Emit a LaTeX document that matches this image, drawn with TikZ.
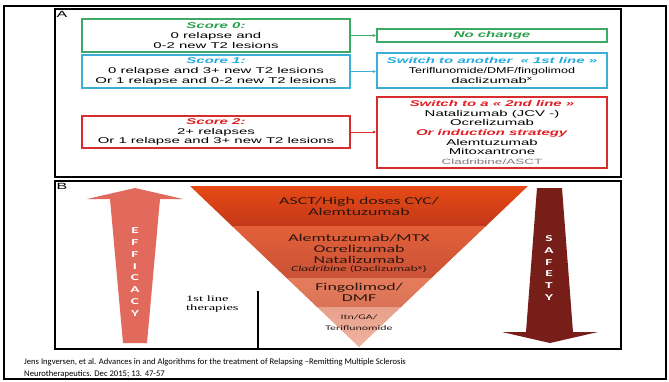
\documentclass[tikz,border=0pt]{standalone}
\usepackage{graphicx}
\usepackage{fontspec}
\setmainfont{Liberation Sans}
\newfontfamily\arw[FakeStretch=1.78]{Liberation Sans}
\newfontfamily\calw[FakeStretch=1.7]{Carlito}
\newfontfamily\calplain{Carlito}
\newfontfamily\serplain{Liberation Serif}
\usetikzlibrary{arrows.meta}
\definecolor{sgreen}{RGB}{40,160,75}
\definecolor{bgreen}{RGB}{60,170,100}
\definecolor{sblue}{RGB}{35,170,225}
\definecolor{bblue}{RGB}{60,175,215}
\definecolor{sred}{RGB}{225,30,35}
\definecolor{bred}{RGB}{215,45,45}
\definecolor{effc}{RGB}{226,106,92}
\definecolor{safc}{RGB}{120,30,25}
\definecolor{tritext}{RGB}{45,22,15}
\definecolor{bandAt}{RGB}{232,74,20}
\definecolor{bandAb}{RGB}{195,56,26}
\definecolor{bandBt}{RGB}{226,96,56}
\definecolor{bandBb}{RGB}{202,82,55}
\definecolor{bandCt}{RGB}{228,124,92}
\definecolor{bandCb}{RGB}{218,114,86}
\definecolor{bandDt}{RGB}{232,160,138}
\definecolor{bandDb}{RGB}{238,180,162}
\begin{document}
\begin{tikzpicture}[x=1pt,y=-1pt,
  panel/.style={draw=black, line width=2pt, minimum width=566pt, minimum height=168pt, inner sep=0pt},
  sbox/.style={draw, line width=1.3pt, inner sep=0pt, minimum width=268pt, minimum height=33pt, align=center, font=\arw\fontsize{8.4}{9.7}\selectfont},
  tbox/.style={draw, line width=1.3pt, inner sep=0pt, minimum width=230pt, align=center, font=\arw\fontsize{8.4}{9.7}\selectfont},
  conn/.style={line width=1pt, -{Latex[length=3.5pt,width=3pt]}},
  plabel/.style={font=\arw\fontsize{9}{10}\selectfont, inner sep=0pt},
  tri/.style={text=tritext, align=center, inner sep=0pt, font=\calw\fontsize{10.5}{11}\selectfont},
  arrtext/.style={text=white, align=center, inner sep=0pt, font=\calw\bfseries\fontsize{9}{11.8}\selectfont},
  cite/.style={anchor=west, inner sep=0pt, font=\calplain\fontsize{8.6}{9}\selectfont}
]
\useasboundingbox (0,0) rectangle (669,381);
\fill[white] (0,0) rectangle (669,381);

% panels
\node[panel] (pa) at (338,93) {};
\node[panel] (pb) at (338,265) {};
\node[plabel] (la) at (62,14) {A};
\node[plabel] (lb) at (62,186) {B};

% Panel A, left boxes
\node[sbox, draw=bgreen] (s0) at (216,35.5) {\textcolor{sgreen}{\textbf{\textit{Score 0:}}}\\0 relapse and\\0-2 new T2 lesions};
\node[sbox, draw=bblue] (s1) at (216,71.5) {\textcolor{sblue}{\textbf{\textit{Score 1:}}}\\0 relapse and 3+ new T2 lesions\\Or 1 relapse and 0-2 new T2 lesions};
\node[sbox, draw=bred, minimum height=32pt] (s2) at (216,132) {\textcolor{sred}{\textbf{\textit{Score 2:}}}\\2+ relapses\\Or 1 relapse and 3+ new T2 lesions};

% Panel A, right boxes
\node[tbox, draw=bgreen, minimum height=13pt] (nc) at (492,35.5) {\textcolor{sgreen}{\textbf{\textit{No change}}}};
\node[tbox, draw=bblue, minimum height=35pt] (r1) at (492,70.5) {\textcolor{sblue}{\textbf{\textit{Switch to another \ « 1st line »}}}\\\scalebox{0.84}[1]{Teriflunomide/DMF/fingolimod}\\daclizumab\textsuperscript{x}};
\node[tbox, draw=bred, minimum height=71pt] (r2) at (492,132.5) {\textcolor{sred}{\textbf{\textit{Switch to a « 2nd line »}}}\\Natalizumab (JCV -)\\Ocrelizumab\\\textcolor{sred}{\textbf{\textit{Or induction strategy}}}\\Alemtuzumab\\Mitoxantrone\\{\color{gray}\fontsize{7.6}{9.7}\selectfont Cladribine/ASCT}};

\draw[conn, bgreen] (s0.east) -- (s0.east -| nc.west);
\draw[conn, bblue] (s1.east) -- (s1.east -| r1.west);
\draw[conn, bred] (s2.east) -- (s2.east -| r2.west);

% Panel B: efficacy arrow
\fill[effc] (135,188) -- (183,199) -- (160,199) -- (147,343) -- (123,343) -- (110,199) -- (87,199) -- cycle;
\node[arrtext] (eff) at (135,272) {E\\F\\F\\I\\C\\A\\C\\Y};

% safety arrow
\fill[safc] (537,188) -- (562,188) -- (573,332) -- (598,332) -- (550,343) -- (502,332) -- (526,332) -- cycle;
\node[arrtext] (saf) at (549,268) {S\\A\\F\\E\\T\\Y};

% triangle
\begin{scope}
\clip (190,186) -- (528,186) -- (359,347) -- cycle;
\shade[top color=bandAt, bottom color=bandAb] (180,185) rectangle (540,226);
\shade[top color=bandBt, bottom color=bandBb] (180,226) rectangle (540,278);
\shade[top color=bandCt, bottom color=bandCb] (180,278) rectangle (540,307);
\shade[top color=bandDt, bottom color=bandDb] (180,307) rectangle (540,348);
\end{scope}
\node[tri] (t1) at (359,206.5) {ASCT/High doses CYC/\\Alemtuzumab};
\node[tri] (t2) at (359,248.5) {Alemtuzumab/MTX\\Ocrelizumab\\Natalizumab};
\node[tri, font=\calw\fontsize{8}{8}\selectfont] (t2b) at (359,269.5) {\textit{Cladribine} (Daclizumab\textsuperscript{x})};
\node[tri] (t3) at (359,292.5) {Fingolimod/\\DMF};
\node[tri, font=\calw\fontsize{7}{11}\selectfont] (t4) at (359,322.5) {Itn/GA/\\Teriflunomide};

\node[anchor=west, align=left, inner sep=0pt, font=\serplain\fontsize{8.3}{9}\selectfont] (fl) at (186,303.5) {\scalebox{1.75}[1]{1st line}\\\scalebox{1.75}[1]{therapies}};
\coordinate (v1) at (258,291);
\coordinate (v2) at (258,348);
\draw[line width=1.8pt] (v1) -- (v2);

% citation
\node[cite] (c1) at (24,362.5) {Jens Ingversen, et al. Advances in and Algorithms for the treatment of Relapsing –Remitting Multiple Sclerosis};
\node[cite] (c2) at (24,374) {Neurotherapeutics. Dec 2015; 13. 47-57};

% outer frame
\draw[line width=2pt] (4,5.5) rectangle (666,378.5);
\end{tikzpicture}
\end{document}
